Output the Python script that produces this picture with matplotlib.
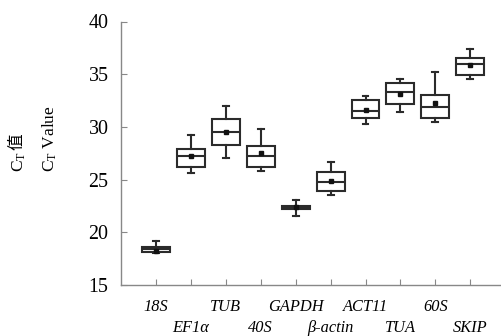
import matplotlib
matplotlib.use("Agg")
import matplotlib.pyplot as plt

plt.rcParams['font.family'] = ['Liberation Serif', 'Noto Sans CJK SC']
plt.rcParams['mathtext.fontset'] = 'custom'
plt.rcParams['mathtext.rm'] = 'Liberation Serif'
plt.rcParams['mathtext.it'] = 'Liberation Serif:italic'

genes = ['18S', 'EF1α', 'TUB', '40S', 'GAPDH', 'β-actin', 'ACT11', 'TUA', '60S', 'SKIP']
whislo = [18.06, 25.62, 27.03, 25.86, 21.56, 23.57, 30.27, 31.44, 30.49, 34.52]
q1     = [18.16, 26.21, 28.29, 26.24, 22.20, 23.92, 30.81, 32.16, 30.81, 34.97]
median = [18.38, 27.22, 29.52, 27.28, 22.37, 24.73, 31.47, 33.27, 31.88, 36.00]
q3     = [18.59, 27.91, 30.77, 28.22, 22.50, 25.71, 32.51, 34.21, 33.01, 36.57]
whishi = [19.16, 29.24, 32.00, 29.80, 23.04, 26.66, 32.95, 34.59, 35.21, 37.36]
means  = [18.22, 27.22, 29.55, 27.50, 22.37, 24.89, 31.62, 33.14, 32.26, 35.91]
yticks = [15, 20, 25, 30, 35, 40]

stats = []
for i, g in enumerate(genes):
    stats.append(dict(label=g, whislo=whislo[i], q1=q1[i], med=median[i], q3=q3[i],
                      whishi=whishi[i], mean=means[i], fliers=[]))

fig = plt.figure(figsize=(5.01, 3.36), dpi=100)
ax = fig.add_axes([121/501, 1-285/336, 379/501, (285-21.5)/336])

lc = '#2b2b2b'
ax.bxp(stats, positions=range(len(genes)), widths=0.8, showmeans=True,
       patch_artist=True, capwidths=0.17,
       boxprops=dict(facecolor='white', edgecolor=lc, linewidth=1.5),
       medianprops=dict(color=lc, linewidth=1.5),
       whiskerprops=dict(color=lc, linewidth=1.5),
       capprops=dict(color=lc, linewidth=1.5),
       meanprops=dict(marker='s', markersize=2.8, markerfacecolor='#111111',
                      markeredgecolor='#111111'))

ax.set_xlim(-1, 9.85)
ax.set_ylim(15, 40)
ax.set_yticks(yticks)
ax.set_yticklabels([str(v) for v in yticks], fontsize=14.4)

pos_even = [i for i in range(len(genes)) if i % 2 == 0]
pos_odd = [i for i in range(len(genes)) if i % 2 == 1]
ax.set_xticks(pos_even)
ax.set_xticklabels([genes[i] for i in pos_even], fontsize=11.8, style='italic')
ax.set_xticks(pos_odd, minor=True)
ax.set_xticklabels([genes[i] for i in pos_odd], minor=True, fontsize=11.8, style='italic')

ax.tick_params(axis='both', which='both', direction='in', length=4, width=0.8,
               color='#888888')
ax.tick_params(axis='y', pad=9)
ax.tick_params(axis='x', which='major', pad=9.8)
ax.tick_params(axis='x', which='minor', pad=9.8 + 15.3)
for s in ['top', 'right']:
    ax.spines[s].set_visible(False)
for s in ['left', 'bottom']:
    ax.spines[s].set_color('#888888')
    ax.spines[s].set_linewidth(1.0)

ybase = 1 - 172/336
t1 = fig.text(19/501, ybase, r'C$_\mathrm{T}$', rotation=90, ha='center', va='bottom',
              fontsize=12.5)
fig.text(50/501, ybase, r'C$_\mathrm{T}$ Value', rotation=90, ha='center', va='bottom',
         fontsize=12.5)
fig.canvas.draw()
bb = t1.get_window_extent(fig.canvas.get_renderer())
fig.text(17/501, (bb.y1 + 1) / fig.bbox.height, '值', rotation=90, ha='center',
         va='bottom', fontsize=12, family=['Noto Sans CJK SC'])

fig.savefig('out.png', dpi=100)
